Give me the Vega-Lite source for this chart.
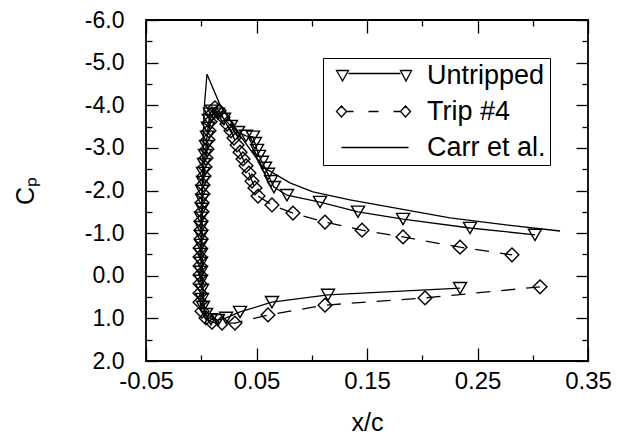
{
  "$schema": "https://vega.github.io/schema/vega-lite/v6.json",
  "width": 442,
  "height": 341,
  "autosize": {"type": "none"},
  "padding": {"left": 146, "top": 20, "right": 36, "bottom": 76},
  "background": "white",
  "config": {
    "view": {"stroke": "black", "strokeWidth": 1.8},
    "axis": {"domain": false, "grid": false, "labelFont": "Liberation Sans", "titleFont": "Liberation Sans", "labelColor": "black", "titleColor": "black", "tickColor": "black", "tickWidth": 1.3}
  },
  "datasets": {
    "pts": [
      {"s":"Untripped","o":1,"x":0.2342,"cp":0.29},
      {"s":"Untripped","o":2,"x":0.1147,"cp":0.45},
      {"s":"Untripped","o":3,"x":0.0640,"cp":0.62},
      {"s":"Untripped","o":4,"x":0.0351,"cp":0.85},
      {"s":"Untripped","o":5,"x":0.0224,"cp":0.99},
      {"s":"Untripped","o":6,"x":0.0152,"cp":1.04},
      {"s":"Untripped","o":7,"x":0.0088,"cp":1.02},
      {"s":"Untripped","o":8,"x":0.0043,"cp":0.90},
      {"s":"Untripped","o":9,"x":0.0016,"cp":0.73},
      {"s":"Untripped","o":10,"x":0.0007,"cp":0.55},
      {"s":"Untripped","o":11,"x":0.0007,"cp":0.33},
      {"s":"Untripped","o":12,"x":-0.0002,"cp":0.12},
      {"s":"Untripped","o":13,"x":-0.0002,"cp":-0.09},
      {"s":"Untripped","o":14,"x":-0.0002,"cp":-0.30},
      {"s":"Untripped","o":15,"x":-0.0002,"cp":-0.51},
      {"s":"Untripped","o":16,"x":-0.0002,"cp":-0.72},
      {"s":"Untripped","o":17,"x":-0.0002,"cp":-0.93},
      {"s":"Untripped","o":18,"x":-0.0002,"cp":-1.14},
      {"s":"Untripped","o":19,"x":-0.0002,"cp":-1.36},
      {"s":"Untripped","o":20,"x":0.0007,"cp":-1.57},
      {"s":"Untripped","o":21,"x":0.0007,"cp":-1.78},
      {"s":"Untripped","o":22,"x":0.0007,"cp":-1.99},
      {"s":"Untripped","o":23,"x":0.0016,"cp":-2.20},
      {"s":"Untripped","o":24,"x":0.0016,"cp":-2.41},
      {"s":"Untripped","o":25,"x":0.0025,"cp":-2.62},
      {"s":"Untripped","o":26,"x":0.0034,"cp":-2.83},
      {"s":"Untripped","o":27,"x":0.0043,"cp":-3.04},
      {"s":"Untripped","o":28,"x":0.0052,"cp":-3.26},
      {"s":"Untripped","o":29,"x":0.0061,"cp":-3.47},
      {"s":"Untripped","o":30,"x":0.0070,"cp":-3.65},
      {"s":"Untripped","o":31,"x":0.0079,"cp":-3.80},
      {"s":"Untripped","o":32,"x":0.0097,"cp":-3.87},
      {"s":"Untripped","o":33,"x":0.0152,"cp":-3.80},
      {"s":"Untripped","o":34,"x":0.0206,"cp":-3.68},
      {"s":"Untripped","o":35,"x":0.0269,"cp":-3.51},
      {"s":"Untripped","o":36,"x":0.0333,"cp":-3.37},
      {"s":"Untripped","o":37,"x":0.0405,"cp":-3.28},
      {"s":"Untripped","o":38,"x":0.0468,"cp":-3.26},
      {"s":"Untripped","o":39,"x":0.0486,"cp":-3.11},
      {"s":"Untripped","o":40,"x":0.0505,"cp":-2.95},
      {"s":"Untripped","o":41,"x":0.0523,"cp":-2.81},
      {"s":"Untripped","o":42,"x":0.0550,"cp":-2.67},
      {"s":"Untripped","o":43,"x":0.0577,"cp":-2.53},
      {"s":"Untripped","o":44,"x":0.0604,"cp":-2.39},
      {"s":"Untripped","o":45,"x":0.0631,"cp":-2.22},
      {"s":"Untripped","o":46,"x":0.0658,"cp":-2.08},
      {"s":"Untripped","o":47,"x":0.0776,"cp":-1.89},
      {"s":"Untripped","o":48,"x":0.1075,"cp":-1.73},
      {"s":"Untripped","o":49,"x":0.1419,"cp":-1.50},
      {"s":"Untripped","o":50,"x":0.1826,"cp":-1.33},
      {"s":"Untripped","o":51,"x":0.2432,"cp":-1.12},
      {"s":"Untripped","o":52,"x":0.3020,"cp":-0.96},
      {"s":"Trip #4","o":1,"x":0.3066,"cp":0.26},
      {"s":"Trip #4","o":2,"x":0.2025,"cp":0.52},
      {"s":"Trip #4","o":3,"x":0.1120,"cp":0.69},
      {"s":"Trip #4","o":4,"x":0.0604,"cp":0.92},
      {"s":"Trip #4","o":5,"x":0.0305,"cp":1.11},
      {"s":"Trip #4","o":6,"x":0.0188,"cp":1.11},
      {"s":"Trip #4","o":7,"x":0.0097,"cp":1.09},
      {"s":"Trip #4","o":8,"x":0.0043,"cp":0.99},
      {"s":"Trip #4","o":9,"x":0.0007,"cp":0.83},
      {"s":"Trip #4","o":10,"x":-0.0011,"cp":0.62},
      {"s":"Trip #4","o":11,"x":-0.0011,"cp":0.41},
      {"s":"Trip #4","o":12,"x":-0.0011,"cp":0.19},
      {"s":"Trip #4","o":13,"x":-0.0011,"cp":-0.02},
      {"s":"Trip #4","o":14,"x":-0.0011,"cp":-0.23},
      {"s":"Trip #4","o":15,"x":-0.0011,"cp":-0.44},
      {"s":"Trip #4","o":16,"x":-0.0011,"cp":-0.65},
      {"s":"Trip #4","o":17,"x":-0.0002,"cp":-0.86},
      {"s":"Trip #4","o":18,"x":-0.0002,"cp":-1.07},
      {"s":"Trip #4","o":19,"x":-0.0002,"cp":-1.28},
      {"s":"Trip #4","o":20,"x":0.0007,"cp":-1.50},
      {"s":"Trip #4","o":21,"x":0.0007,"cp":-1.71},
      {"s":"Trip #4","o":22,"x":0.0016,"cp":-1.92},
      {"s":"Trip #4","o":23,"x":0.0016,"cp":-2.13},
      {"s":"Trip #4","o":24,"x":0.0025,"cp":-2.34},
      {"s":"Trip #4","o":25,"x":0.0034,"cp":-2.55},
      {"s":"Trip #4","o":26,"x":0.0043,"cp":-2.76},
      {"s":"Trip #4","o":27,"x":0.0052,"cp":-2.97},
      {"s":"Trip #4","o":28,"x":0.0061,"cp":-3.19},
      {"s":"Trip #4","o":29,"x":0.0070,"cp":-3.40},
      {"s":"Trip #4","o":30,"x":0.0079,"cp":-3.61},
      {"s":"Trip #4","o":31,"x":0.0097,"cp":-3.80},
      {"s":"Trip #4","o":32,"x":0.0124,"cp":-3.94},
      {"s":"Trip #4","o":33,"x":0.0161,"cp":-3.87},
      {"s":"Trip #4","o":34,"x":0.0197,"cp":-3.72},
      {"s":"Trip #4","o":35,"x":0.0233,"cp":-3.56},
      {"s":"Trip #4","o":36,"x":0.0269,"cp":-3.40},
      {"s":"Trip #4","o":37,"x":0.0296,"cp":-3.23},
      {"s":"Trip #4","o":38,"x":0.0324,"cp":-3.07},
      {"s":"Trip #4","o":39,"x":0.0351,"cp":-2.90},
      {"s":"Trip #4","o":40,"x":0.0378,"cp":-2.74},
      {"s":"Trip #4","o":41,"x":0.0405,"cp":-2.58},
      {"s":"Trip #4","o":42,"x":0.0432,"cp":-2.41},
      {"s":"Trip #4","o":43,"x":0.0459,"cp":-2.22},
      {"s":"Trip #4","o":44,"x":0.0486,"cp":-2.06},
      {"s":"Trip #4","o":45,"x":0.0514,"cp":-1.87},
      {"s":"Trip #4","o":46,"x":0.0640,"cp":-1.66},
      {"s":"Trip #4","o":47,"x":0.0830,"cp":-1.47},
      {"s":"Trip #4","o":48,"x":0.1120,"cp":-1.26},
      {"s":"Trip #4","o":49,"x":0.1455,"cp":-1.07},
      {"s":"Trip #4","o":50,"x":0.1826,"cp":-0.91},
      {"s":"Trip #4","o":51,"x":0.2342,"cp":-0.67},
      {"s":"Trip #4","o":52,"x":0.2812,"cp":-0.49},
      {"s":"Carr et al.","o":1,"x":0.0034,"cp":0.94},
      {"s":"Carr et al.","o":2,"x":0.0016,"cp":0.33},
      {"s":"Carr et al.","o":3,"x":0.0007,"cp":-0.60},
      {"s":"Carr et al.","o":4,"x":0.0007,"cp":-1.78},
      {"s":"Carr et al.","o":5,"x":0.0016,"cp":-2.95},
      {"s":"Carr et al.","o":6,"x":0.0025,"cp":-3.89},
      {"s":"Carr et al.","o":7,"x":0.0052,"cp":-4.73},
      {"s":"Carr et al.","o":8,"x":0.0170,"cp":-4.01},
      {"s":"Carr et al.","o":9,"x":0.0333,"cp":-3.35},
      {"s":"Carr et al.","o":10,"x":0.0559,"cp":-2.55},
      {"s":"Carr et al.","o":11,"x":0.0803,"cp":-2.18},
      {"s":"Carr et al.","o":12,"x":0.1011,"cp":-1.97},
      {"s":"Carr et al.","o":13,"x":0.1346,"cp":-1.78},
      {"s":"Carr et al.","o":14,"x":0.1799,"cp":-1.57},
      {"s":"Carr et al.","o":15,"x":0.2251,"cp":-1.36},
      {"s":"Carr et al.","o":16,"x":0.2704,"cp":-1.21},
      {"s":"Carr et al.","o":17,"x":0.3247,"cp":-1.05}
    ]
  },
  "data": {"name": "pts"},
  "layer": [
    {
      "transform": [{"filter": "datum.s === 'Carr et al.'"}],
      "mark": {"type": "line", "strokeWidth": 1.3, "color": "black"},
      "encoding": {
        "x": {"field": "x", "type": "quantitative", "scale": {"domain": [-0.05, 0.35], "nice": false, "zero": false},
          "axis": {"orient": "bottom", "values": [-0.05, 0.05, 0.15, 0.25, 0.35], "ticks": false, "labelExpr": "replace(format(datum.value, '.2f'), '\u2212', '-')", "labelFontSize": 24, "labelPadding": 8, "labelFlush": false, "labelOverlap": false, "title": "x/c", "titleFontSize": 25, "titleFontWeight": "normal", "titlePadding": 17}},
        "y": {"field": "cp", "type": "quantitative", "scale": {"domain": [-6, 2], "reverse": true, "nice": false, "zero": false},
          "axis": {"orient": "left", "values": [-6, -5, -4, -3, -2, -1, 0, 1, 2], "ticks": false, "labelExpr": "replace(format(datum.value, '.1f'), '\u2212', '-')", "labelFontSize": 23, "labelPadding": 22, "labelFlush": false, "labelOverlap": false, "title": "Cₚ", "titleFontSize": 25, "titleFontWeight": "normal", "titlePadding": 46}},
        "order": {"field": "o", "type": "quantitative"}
      }
    },
    {
      "transform": [{"filter": "datum.s === 'Untripped'"}],
      "mark": {"type": "line", "strokeWidth": 1.3, "color": "black"},
      "encoding": {
        "x": {"field": "x", "type": "quantitative", "scale": {"domain": [-0.05, 0.35], "nice": false, "zero": false},
          "axis": {"orient": "bottom", "values": [-0.05, 0.05, 0.15, 0.25, 0.35], "labels": false, "tickSize": -13, "title": null}},
        "y": {"field": "cp", "type": "quantitative", "scale": {"domain": [-6, 2], "reverse": true, "nice": false, "zero": false},
          "axis": {"orient": "left", "values": [-6, -5, -4, -3, -2, -1, 0, 1, 2], "labels": false, "tickSize": -12, "title": null}},
        "order": {"field": "o", "type": "quantitative"}
      }
    },
    {
      "transform": [{"filter": "datum.s === 'Untripped'"}],
      "mark": {"type": "point", "shape": "triangle-down", "filled": false, "size": 170, "strokeWidth": 1.4, "color": "black", "opacity": 1},
      "encoding": {
        "x": {"field": "x", "type": "quantitative", "scale": {"domain": [-0.05, 0.35], "nice": false, "zero": false},
          "axis": {"orient": "bottom", "values": [0, 0.1, 0.2, 0.3], "labels": false, "tickSize": -6, "title": null}},
        "y": {"field": "cp", "type": "quantitative", "scale": {"domain": [-6, 2], "reverse": true, "nice": false, "zero": false},
          "axis": {"orient": "left", "values": [-5.5, -4.5, -3.5, -2.5, -1.5, -0.5, 0.5, 1.5], "labels": false, "tickSize": -6, "title": null}}
      }
    },
    {
      "transform": [{"filter": "datum.s === 'Trip #4'"}],
      "mark": {"type": "line", "strokeWidth": 1.3, "color": "black", "strokeDash": [14, 11]},
      "encoding": {
        "x": {"field": "x", "type": "quantitative", "scale": {"domain": [-0.05, 0.35], "nice": false, "zero": false},
          "axis": {"orient": "top", "values": [-0.05, 0.05, 0.15, 0.25, 0.35], "labels": false, "tickSize": -13, "title": null}},
        "y": {"field": "cp", "type": "quantitative", "scale": {"domain": [-6, 2], "reverse": true, "nice": false, "zero": false},
          "axis": {"orient": "right", "values": [-6, -5, -4, -3, -2, -1, 0, 1, 2], "labels": false, "tickSize": -12, "title": null}},
        "order": {"field": "o", "type": "quantitative"}
      }
    },
    {
      "transform": [{"filter": "datum.s === 'Trip #4'"}],
      "mark": {"type": "point", "shape": "diamond", "filled": false, "size": 190, "strokeWidth": 1.4, "color": "black", "opacity": 1},
      "encoding": {
        "x": {"field": "x", "type": "quantitative", "scale": {"domain": [-0.05, 0.35], "nice": false, "zero": false},
          "axis": {"orient": "top", "values": [0, 0.1, 0.2, 0.3], "labels": false, "tickSize": -6, "title": null}},
        "y": {"field": "cp", "type": "quantitative", "scale": {"domain": [-6, 2], "reverse": true, "nice": false, "zero": false},
          "axis": {"orient": "right", "values": [-5.5, -4.5, -3.5, -2.5, -1.5, -0.5, 0.5, 1.5], "labels": false, "tickSize": -6, "title": null}}
      }
    },
    {
      "transform": [{"filter": "false"}],
      "mark": {"type": "point", "filled": false, "size": 400, "strokeWidth": 1.3, "color": "black", "opacity": 1},
      "encoding": {
        "x": {"field": "x", "type": "quantitative", "scale": {"domain": [-0.05, 0.35], "nice": false, "zero": false}, "axis": null},
        "y": {"field": "cp", "type": "quantitative", "scale": {"domain": [-6, 2], "reverse": true, "nice": false, "zero": false}, "axis": null},
        "shape": {"field": "s", "type": "nominal",
          "scale": {"domain": ["Untripped", "Trip #4", "Carr et al."], "range": [
            "M-0.4 -0.5L0.8 -0.5L0.2 0.55Z M0.8 -0.2L6 -0.2 M6 -0.5L7.1 -0.5L6.55 0.55Z",
            "M-0.4 0L0.1 -0.55L0.6 0L0.1 0.55Z M0.6 0L1.3 0 M2.8 0L3.8 0 M5.3 0L6 0 M6 0L6.5 -0.55L7 0L6.5 0.55Z",
            "M0.1 0L6.8 0"
          ]},
          "legend": {
            "title": null, "orient": "none", "legendX": 177, "legendY": 38,
            "padding": 4, "strokeColor": "black", "fillColor": "white",
            "labelFont": "Liberation Sans", "labelFontSize": 27, "labelColor": "black", "labelLimit": 400,
            "labelOffset": 73, "rowPadding": 8, "symbolSize": 400,
            "symbolStrokeColor": "black", "symbolFillColor": "transparent", "symbolStrokeWidth": 1.3, "symbolOpacity": 1
          }
        }
      }
    }
  ],
  "resolve": {"axis": {"x": "independent", "y": "independent"}}
}
